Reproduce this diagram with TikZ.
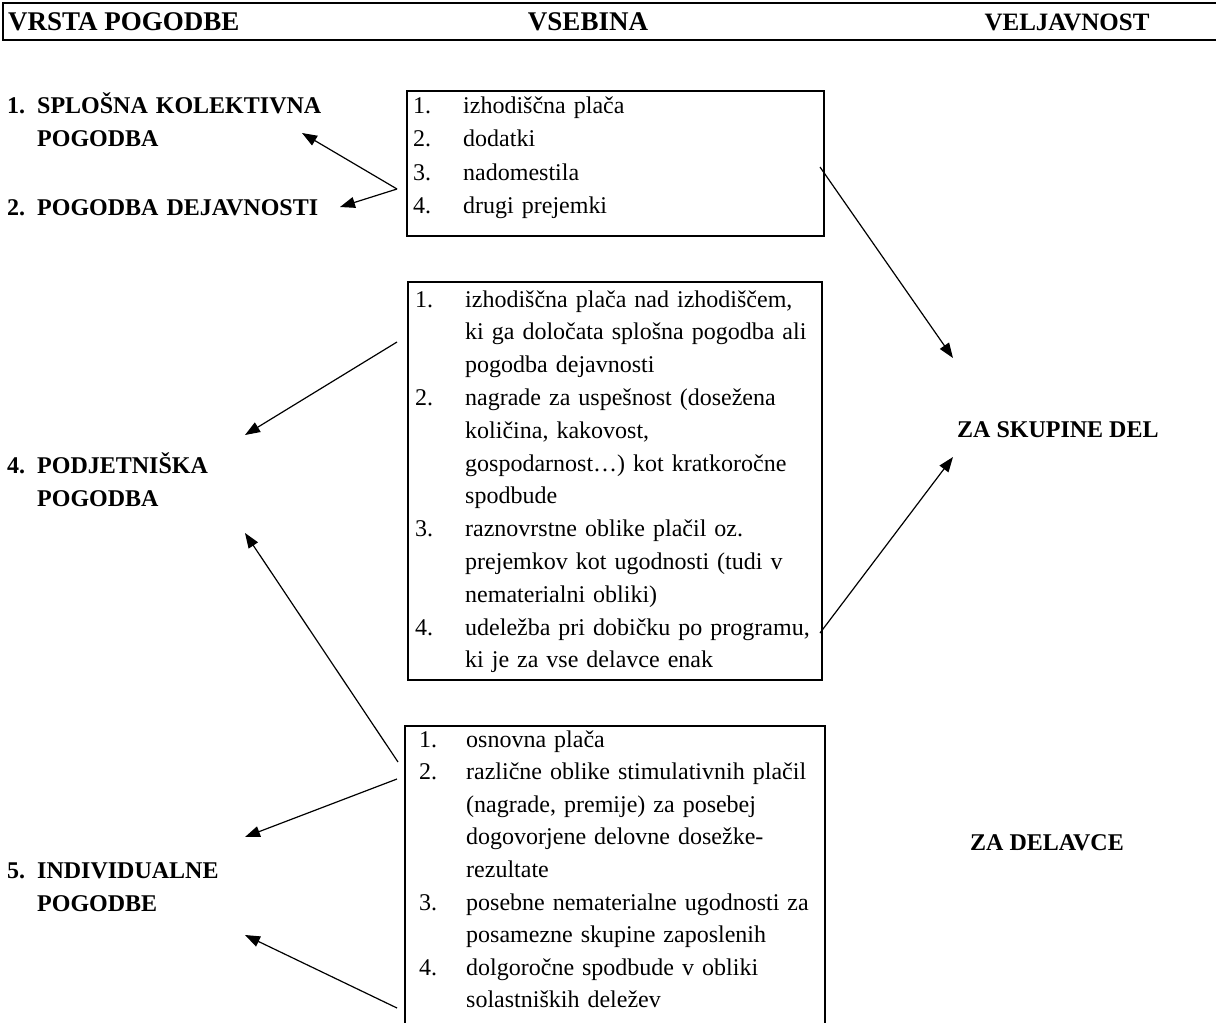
\documentclass[tikz,border=0pt]{standalone}
\usepackage{fontspec}
\setmainfont{Liberation Serif}
\usetikzlibrary{arrows.meta}
\newcommand{\numcol}[1]{\makebox[50pt][l]{#1}}
\newcommand{\numcolc}[1]{\makebox[47pt][l]{#1}}
\newcommand{\numlbl}[1]{\makebox[30pt][l]{#1}}
\newcommand{\jline}[1]{\makebox[349pt][s]{#1}}

\begin{document}
\begin{tikzpicture}[x=1pt,y=-1pt,
  hdr/.style={inner sep=0pt,font=\fontsize{24}{33}\selectfont\bfseries},
  lbl/.style={anchor=base west,inner sep=0pt,text width=340pt,align=left,font=\fontsize{24}{33}\selectfont\bfseries},
  txt/.style={anchor=base west,inner sep=0pt,text width=405pt,align=left},
  frame/.style={draw,line width=1.9pt,anchor=north west,inner sep=0pt},
  arr/.style={line width=1.2pt,-{Triangle[length=15pt,width=11pt]}}]
\useasboundingbox (0,0) rectangle (1216,1023);

% header
\draw[line width=2.4pt] (1230,3) -- (3,3) -- (3,40) -- (1230,40);
\node[hdr,anchor=base west,font=\fontsize{27}{33}\selectfont\bfseries] (vrsta) at (8,30) {VRSTA POGODBE};
\node[hdr,anchor=base,font=\fontsize{27}{33}\selectfont\bfseries] (vsebina) at (588,30) {VSEBINA};
\node[hdr,anchor=base,font=\fontsize{25}{33}\selectfont\bfseries] (veljavnost) at (1067,30) {VELJAVNOST};

% left column
\node[lbl] (splosna) at (7,113) {\numlbl{1.}SPLOŠNA KOLEKTIVNA\\\numlbl{}POGODBA};
\node[lbl] (dejavnost) at (7,215) {\numlbl{2.}POGODBA DEJAVNOSTI};
\node[lbl] (podjetniska) at (7,473) {\numlbl{4.}PODJETNIŠKA\\\numlbl{}POGODBA};
\node[lbl] (individualne) at (7,878) {\numlbl{5.}INDIVIDUALNE\\\numlbl{}POGODBE};

% right column
\node[hdr,anchor=base west] (skupine) at (957,437) {ZA SKUPINE DEL};
\node[hdr,anchor=base west] (delavce) at (970,850) {ZA DELAVCE};

% boxes
\node[frame,minimum width=417pt,minimum height=145pt] (box1) at (406,90) {};
\node[frame,minimum width=414pt,minimum height=398pt] (box2) at (407,281) {};
\node[frame,minimum width=420pt,minimum height=330pt] (box3) at (404,725) {};

\node[txt,font=\fontsize{24}{33.5}\selectfont] (vsb1) at (413,113) {%
\numcol{1.}izhodiščna plača\\
\numcol{2.}dodatki\\
\numcol{3.}nadomestila\\
\numcol{4.}drugi prejemki};

\node[txt,font=\fontsize{24}{32.8}\selectfont] (vsb2) at (415,307) {%
\numcol{1.}izhodiščna plača nad izhodiščem,\\
\numcol{}ki ga določata splošna pogodba ali\\
\numcol{}pogodba dejavnosti\\
\numcol{2.}nagrade za uspešnost (dosežena\\
\numcol{}količina, kakovost,\\
\numcol{}gospodarnost…) kot kratkoročne\\
\numcol{}spodbude\\
\numcol{3.}raznovrstne oblike plačil oz.\\
\numcol{}prejemkov kot ugodnosti (tudi v\\
\numcol{}nematerialni obliki)\\
\numcol{4.}udeležba pri dobičku po programu,\\
\numcol{}ki je za vse delavce enak};

\node[txt,font=\fontsize{24}{32.6}\selectfont] (vsb3) at (419,747) {%
\numcolc{1.}osnovna plača\\
\numcolc{2.}\jline{različne oblike stimulativnih plačil}\\
\numcolc{}\jline{(nagrade, premije) za posebej}\\
\numcolc{}\jline{dogovorjene delovne dosežke-}\\
\numcolc{}rezultate\\
\numcolc{3.}\jline{posebne nematerialne ugodnosti za}\\
\numcolc{}posamezne skupine zaposlenih\\
\numcolc{4.}dolgoročne spodbude v obliki\\
\numcolc{}solastniških deležev};

% arrow ends
\coordinate (b1w) at (397,189);
\coordinate (b1e) at (820,167);
\coordinate (b2w) at (397,342);
\coordinate (b2e) at (820,633);
\coordinate (b3a) at (398,762);
\coordinate (b3b) at (397,779);
\coordinate (b3c) at (397,1008);
\coordinate (splosnaT) at (302,133);
\coordinate (dejavnostT) at (340,207);
\coordinate (podjA) at (245,435);
\coordinate (podjB) at (245,533);
\coordinate (indA) at (245,837);
\coordinate (indB) at (245,935);
\coordinate (skupA) at (953,358);
\coordinate (skupB) at (953,457);

\draw[arr] (b1w) -- (splosnaT);
\draw[arr] (b1w) -- (dejavnostT);
\draw[arr] (b1e) -- (skupA);
\draw[arr] (b2w) -- (podjA);
\draw[arr] (b2e) -- (skupB);
\draw[arr] (b3a) -- (podjB);
\draw[arr] (b3b) -- (indA);
\draw[arr] (b3c) -- (indB);

\end{tikzpicture}
\end{document}
